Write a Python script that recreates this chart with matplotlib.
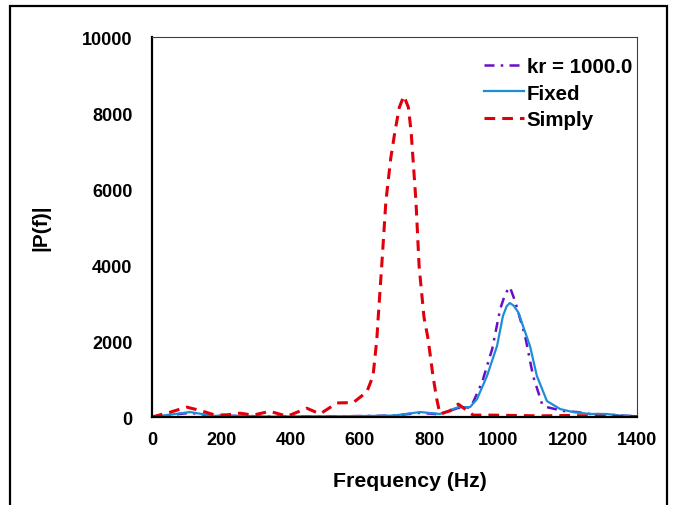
import matplotlib
matplotlib.use('Agg')
import matplotlib.pyplot as plt
from matplotlib.patches import Rectangle

plt.rcParams['font.family'] = ['Liberation Sans', 'DejaVu Sans']
plt.rcParams['font.weight'] = 'bold'

# Simply (red dashed)
f_simply = [0, 50, 100, 140, 182, 220, 254, 292, 340, 390, 447, 485, 534, 581, 620, 638, 649, 653,
            663, 675, 689, 701, 714, 727, 740, 748, 762, 771, 785, 797, 811, 822, 831, 860, 884, 927, 976,
            1050, 1120, 1200, 1300, 1400]
p_simply = [0, 120, 260, 170, 50, 60, 100, 50, 150, 20, 230, 80, 370, 380, 660, 1080, 2050, 2630,
            3970, 5660, 6800, 7500, 8150, 8450, 8150, 7500, 5660, 3970, 2630, 2050, 1080, 470, 80, 160, 340, 50, 50,
            40, 30, 40, 20, 10]

# Fixed (blue solid)
f_fixed = [0, 50, 110, 176, 254, 350, 450, 550, 650, 700, 774, 831, 884, 918, 938, 967, 996,
           1013, 1024, 1033, 1044, 1057, 1091, 1111, 1140, 1178, 1215, 1264, 1313, 1350, 1400]
p_fixed = [0, 60, 130, 30, 30, 10, 20, 20, 30, 40, 130, 80, 260, 260, 470, 1080, 1870,
           2660, 2920, 3000, 2930, 2760, 1870, 1080, 420, 210, 130, 80, 80, 40, 20]

# kr = 1000.0 (purple dash-dot)
f_kr = [0, 50, 110, 176, 254, 350, 450, 550, 650, 700, 774, 831, 884, 918, 927, 953, 982,
        1005, 1020, 1033, 1048, 1077, 1100, 1126, 1140, 1186, 1227, 1264, 1313, 1350, 1400]
p_kr = [0, 50, 110, 30, 30, 10, 20, 20, 30, 40, 110, 70, 240, 250, 390, 920, 1790,
        2840, 3250, 3420, 3050, 2130, 1080, 340, 260, 160, 130, 80, 70, 40, 20]

fig = plt.figure(figsize=(6.73, 5.06), dpi=100)
ax = fig.add_axes([0.2259, 0.1739, 0.7206, 0.751])

# outer frame
fig.patches.append(Rectangle((10 / 673, -0.05), 657 / 673, 1.05 - 7 / 506, transform=fig.transFigure,
                             fill=False, edgecolor='black', linewidth=1.6))

ax.plot(f_kr, p_kr, color='#6A0DC9', linewidth=1.8, linestyle=(0, (4, 2.5, 1, 2.5)), label='kr = 1000.0')
ax.plot(f_fixed, p_fixed, color='#1B8ED8', linewidth=1.6, linestyle='-', label='Fixed')
ax.plot(f_simply, p_simply, color='#E0000B', linewidth=2.2, linestyle=(0, (3.5, 2.3)), label='Simply')

ax.set_xlim(0, 1400)
ax.set_ylim(0, 10000)
ax.set_xticks(range(0, 1401, 200))
ax.set_yticks(range(0, 10001, 2000))
ax.tick_params(axis='y', length=0, labelsize=13, pad=14)
ax.tick_params(axis='x', length=0, labelsize=13, pad=10)
for lab in ax.get_xticklabels() + ax.get_yticklabels():
    lab.set_fontweight('bold')

ax.spines['left'].set_linewidth(1.6)
ax.spines['bottom'].set_linewidth(1.6)
ax.spines['top'].set_linewidth(0.8)
ax.spines['right'].set_linewidth(0.8)
ax.spines['top'].set_color('#404040')
ax.spines['right'].set_color('#404040')

ax.set_xlabel('Frequency (Hz)', fontsize=15.3, fontweight='bold')
ax.xaxis.set_label_coords(0.532, -0.142)
ax.set_ylabel('|P(f)|', fontsize=15, fontweight='bold')
ax.yaxis.set_label_coords(-0.21, 0.5)

leg = ax.legend(loc='upper right', bbox_to_anchor=(0.99, 0.948), frameon=False, fontsize=14.8,
                handlelength=1.95, handletextpad=0.15, labelspacing=0.38, borderaxespad=0, borderpad=0)
for t in leg.get_texts():
    t.set_fontweight('bold')

plt.savefig('out.png', dpi=100)
plt.close()
